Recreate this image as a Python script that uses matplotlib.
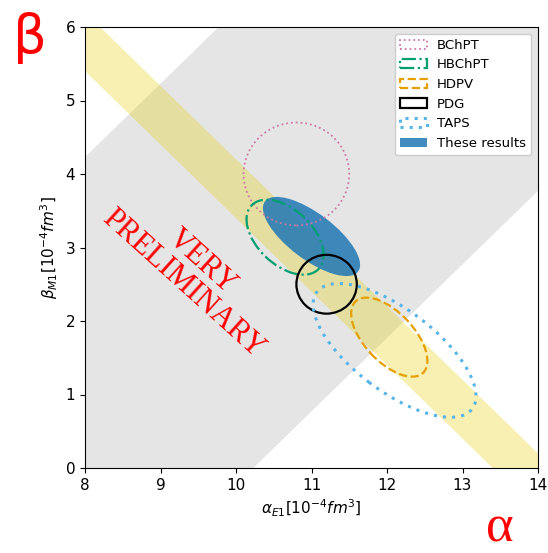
import numpy as np
import matplotlib
matplotlib.use("Agg")
import matplotlib.pyplot as plt
from matplotlib.patches import Ellipse

# Constraint bands
sum_rule_lo, sum_rule_hi = 13.4, 14.2      # alpha + beta
diff_lo, diff_hi = 3.77, 10.23             # alpha - beta

# Ellipses: centre (alpha, beta), semi-axes, orientation
labels = ["BChPT", "HBChPT", "HDPV", "PDG", "TAPS", "These results"]
alpha_c = [10.8, 10.65, 12.03, 11.2, 12.1, 11.0]
beta_c = [4.0, 3.14, 1.78, 2.5, 1.6, 3.15]
semi_a = [0.7, 0.62, 0.66, 0.4, 1.3, 0.78]
semi_b = [0.7, 0.37, 0.33, 0.4, 0.55, 0.31]
angles = [0, -45, -48, 0, -38, -38]

colors = ["#cc79a7", "#009e73", "#e69f00", "black", "#56b4e9", "#1f77b4"]
styles = [":", "-.", "--", "-", (0, (1, 2)), "-"]
widths = [1.3, 1.6, 1.6, 1.6, 2.2, 0]

xticks = [8, 9, 10, 11, 12, 13, 14]
yticks = [0, 1, 2, 3, 4, 5, 6]

fig = plt.figure(figsize=(5.48, 5.53), dpi=100)
ax = fig.add_axes([85 / 548, 85 / 553, 453 / 548, 441 / 553])

xs = np.linspace(6, 16, 200)
ax.fill_between(xs, xs - diff_hi, xs - diff_lo, color="grey", alpha=0.2, lw=0, zorder=1)
ax.fill_between(xs, sum_rule_lo - xs, sum_rule_hi - xs, color=(232 / 255, 208 / 255, 5 / 255),
                alpha=0.3, lw=0, zorder=1)

handles = []
for i, lab in enumerate(labels):
    if lab == "These results":
        e = Ellipse((alpha_c[i], beta_c[i]), 2 * semi_a[i], 2 * semi_b[i], angle=angles[i],
                    facecolor=colors[i], edgecolor="none", alpha=0.85, label=lab, zorder=2)
    else:
        e = Ellipse((alpha_c[i], beta_c[i]), 2 * semi_a[i], 2 * semi_b[i], angle=angles[i],
                    facecolor="none", edgecolor=colors[i], linestyle=styles[i],
                    linewidth=widths[i], label=lab, zorder=3)
    ax.add_patch(e)
    handles.append(e)

ax.set_xlim(8, 14)
ax.set_ylim(0, 6)
ax.set_xticks(xticks)
ax.set_yticks(yticks)
ax.tick_params(labelsize=11)
ax.set_xlabel(r"$\alpha_{E1}[10^{-4}fm^3]$", fontsize=11)
ax.set_ylabel(r"$\beta_{M1}[10^{-4}fm^3]$", fontsize=11)

ax.legend(handles=handles, loc="upper right", fontsize=9.5, framealpha=1)

ax.text(9.42, 2.66, "VERY\nPRELIMINARY", color="red", fontsize=22,
        family="Liberation Serif", rotation=-42, ha="center", va="center",
        multialignment="center", rotation_mode="anchor", linespacing=1.0, zorder=4)

fig.text(30 / 548, 1 - 38 / 553, "β", color="red", fontsize=38,
         ha="center", va="center")
fig.text(500 / 548, 1 - 541 / 553, "α", color="red", fontsize=38,
         family="Liberation Serif", ha="center", va="baseline")

fig.savefig("out.png", dpi=100)
